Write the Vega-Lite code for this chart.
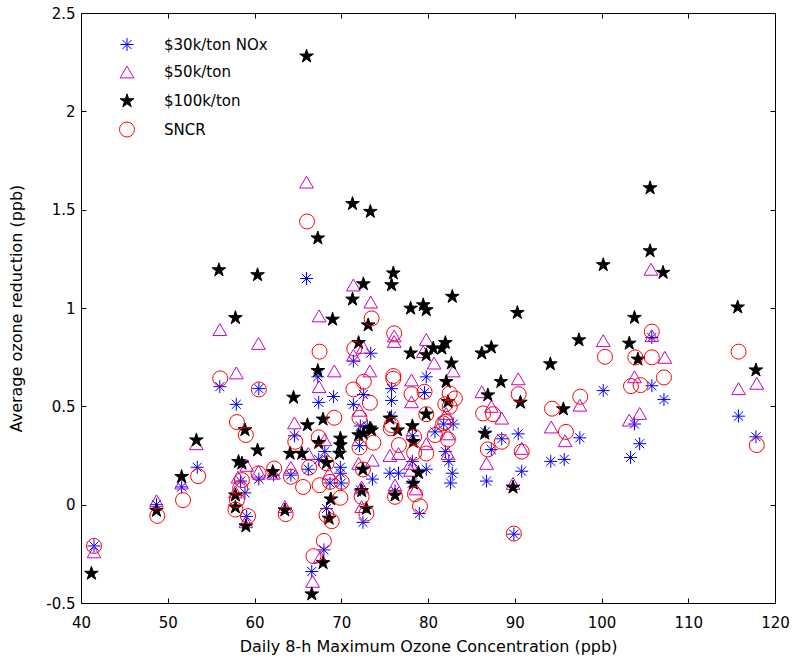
{
"$schema":"https://vega.github.io/schema/vega-lite/v6.json",
"width":694,"height":590,
"autosize":{"type":"none"},
"padding":{"left":81,"top":13,"right":19,"bottom":57},
"background":"white",
"config":{
 "view":{"stroke":"black","strokeWidth":1},
 "axis":{"domain":false,"grid":false,"tickColor":"black","tickSize":-5,"labelColor":"black","labelFont":"DejaVu Sans","labelFontSize":15,"titleFont":"DejaVu Sans","titleFontSize":16,"titleFontWeight":"normal","titleColor":"black","labelFlush":false,"labelOverlap":false}
},
"data":{"values":[
{"s":"$30k/ton NOx","x":41.5,"y":-0.21},{"s":"$30k/ton NOx","x":48.7,"y":0.0},{"s":"$30k/ton NOx","x":51.6,"y":0.09},{"s":"$30k/ton NOx","x":53.4,"y":0.19},{"s":"$30k/ton NOx","x":56.0,"y":0.6},{"s":"$30k/ton NOx","x":57.9,"y":0.51},{"s":"$30k/ton NOx","x":58.4,"y":0.12},{"s":"$30k/ton NOx","x":58.9,"y":0.06},{"s":"$30k/ton NOx","x":59.1,"y":-0.06},{"s":"$30k/ton NOx","x":60.5,"y":0.59},{"s":"$30k/ton NOx","x":60.5,"y":0.13},{"s":"$30k/ton NOx","x":62.2,"y":0.15},{"s":"$30k/ton NOx","x":64.2,"y":0.15},{"s":"$30k/ton NOx","x":64.6,"y":0.35},{"s":"$30k/ton NOx","x":66.0,"y":1.15},{"s":"$30k/ton NOx","x":66.2,"y":0.18},{"s":"$30k/ton NOx","x":67.3,"y":0.65},{"s":"$30k/ton NOx","x":67.4,"y":0.52},{"s":"$30k/ton NOx","x":67.4,"y":0.23},{"s":"$30k/ton NOx","x":68.1,"y":0.27},{"s":"$30k/ton NOx","x":68.7,"y":0.11},{"s":"$30k/ton NOx","x":69.1,"y":0.55},{"s":"$30k/ton NOx","x":69.9,"y":0.19},{"s":"$30k/ton NOx","x":69.9,"y":0.16},{"s":"$30k/ton NOx","x":70.0,"y":0.11},{"s":"$30k/ton NOx","x":71.4,"y":0.73},{"s":"$30k/ton NOx","x":71.4,"y":0.51},{"s":"$30k/ton NOx","x":72.1,"y":0.3},{"s":"$30k/ton NOx","x":72.55,"y":0.56},{"s":"$30k/ton NOx","x":72.2,"y":0.4},{"s":"$30k/ton NOx","x":73.0,"y":0.4},{"s":"$30k/ton NOx","x":73.4,"y":0.77},{"s":"$30k/ton NOx","x":72.2,"y":0.075},{"s":"$30k/ton NOx","x":73.6,"y":0.13},{"s":"$30k/ton NOx","x":72.5,"y":-0.09},{"s":"$30k/ton NOx","x":68.3,"y":-0.02},{"s":"$30k/ton NOx","x":68.0,"y":-0.23},{"s":"$30k/ton NOx","x":66.6,"y":-0.34},{"s":"$30k/ton NOx","x":75.8,"y":0.59},{"s":"$30k/ton NOx","x":75.8,"y":0.53},{"s":"$30k/ton NOx","x":75.8,"y":0.45},{"s":"$30k/ton NOx","x":75.6,"y":0.16},{"s":"$30k/ton NOx","x":76.6,"y":0.16},{"s":"$30k/ton NOx","x":76.2,"y":0.07},{"s":"$30k/ton NOx","x":78.2,"y":0.35},{"s":"$30k/ton NOx","x":78.2,"y":0.22},{"s":"$30k/ton NOx","x":78.2,"y":0.11},{"s":"$30k/ton NOx","x":79.8,"y":0.65},{"s":"$30k/ton NOx","x":79.6,"y":0.57},{"s":"$30k/ton NOx","x":79.8,"y":0.18},{"s":"$30k/ton NOx","x":79.0,"y":-0.045},{"s":"$30k/ton NOx","x":80.8,"y":0.37},{"s":"$30k/ton NOx","x":81.8,"y":0.41},{"s":"$30k/ton NOx","x":82.9,"y":0.41},{"s":"$30k/ton NOx","x":82.0,"y":0.27},{"s":"$30k/ton NOx","x":82.4,"y":0.22},{"s":"$30k/ton NOx","x":82.8,"y":0.16},{"s":"$30k/ton NOx","x":82.6,"y":0.11},{"s":"$30k/ton NOx","x":86.6,"y":0.37},{"s":"$30k/ton NOx","x":87.3,"y":0.28},{"s":"$30k/ton NOx","x":86.75,"y":0.12},{"s":"$30k/ton NOx","x":88.5,"y":0.335},{"s":"$30k/ton NOx","x":90.4,"y":0.36},{"s":"$30k/ton NOx","x":90.8,"y":0.17},{"s":"$30k/ton NOx","x":89.9,"y":-0.15},{"s":"$30k/ton NOx","x":94.15,"y":0.22},{"s":"$30k/ton NOx","x":95.7,"y":0.23},{"s":"$30k/ton NOx","x":97.5,"y":0.34},{"s":"$30k/ton NOx","x":100.2,"y":0.58},{"s":"$30k/ton NOx","x":103.8,"y":0.41},{"s":"$30k/ton NOx","x":104.4,"y":0.31},{"s":"$30k/ton NOx","x":103.35,"y":0.24},{"s":"$30k/ton NOx","x":105.8,"y":0.605},{"s":"$30k/ton NOx","x":105.8,"y":0.85},{"s":"$30k/ton NOx","x":107.2,"y":0.535},{"s":"$30k/ton NOx","x":115.8,"y":0.45},{"s":"$30k/ton NOx","x":117.8,"y":0.345},
{"s":"$50k/ton","x":41.5,"y":-0.24},{"s":"$50k/ton","x":48.7,"y":0.02},{"s":"$50k/ton","x":51.6,"y":0.11},{"s":"$50k/ton","x":53.3,"y":0.31},{"s":"$50k/ton","x":56.0,"y":0.89},{"s":"$50k/ton","x":57.9,"y":0.67},{"s":"$50k/ton","x":60.46,"y":0.82},{"s":"$50k/ton","x":58.1,"y":0.14},{"s":"$50k/ton","x":59.1,"y":0.2},{"s":"$50k/ton","x":57.8,"y":0.065},{"s":"$50k/ton","x":59.0,"y":-0.087},{"s":"$50k/ton","x":60.46,"y":0.17},{"s":"$50k/ton","x":62.2,"y":0.16},{"s":"$50k/ton","x":63.5,"y":-0.01},{"s":"$50k/ton","x":64.2,"y":0.19},{"s":"$50k/ton","x":64.6,"y":0.416},{"s":"$50k/ton","x":66.0,"y":1.64},{"s":"$50k/ton","x":66.2,"y":0.26},{"s":"$50k/ton","x":67.45,"y":0.96},{"s":"$50k/ton","x":67.45,"y":0.6},{"s":"$50k/ton","x":68.1,"y":0.33},{"s":"$50k/ton","x":68.6,"y":0.16},{"s":"$50k/ton","x":69.2,"y":0.68},{"s":"$50k/ton","x":71.4,"y":1.117},{"s":"$50k/ton","x":73.4,"y":1.03},{"s":"$50k/ton","x":72.55,"y":0.8},{"s":"$50k/ton","x":71.4,"y":0.76},{"s":"$50k/ton","x":73.3,"y":0.68},{"s":"$50k/ton","x":72.1,"y":0.48},{"s":"$50k/ton","x":72.0,"y":0.21},{"s":"$50k/ton","x":73.6,"y":0.226},{"s":"$50k/ton","x":72.35,"y":0.09},{"s":"$50k/ton","x":72.35,"y":-0.01},{"s":"$50k/ton","x":67.6,"y":-0.265},{"s":"$50k/ton","x":66.7,"y":-0.39},{"s":"$50k/ton","x":76.1,"y":0.858},{"s":"$50k/ton","x":76.1,"y":0.83},{"s":"$50k/ton","x":79.8,"y":0.84},{"s":"$50k/ton","x":79.45,"y":0.778},{"s":"$50k/ton","x":80.7,"y":0.72},{"s":"$50k/ton","x":82.9,"y":0.68},{"s":"$50k/ton","x":78.1,"y":0.634},{"s":"$50k/ton","x":78.1,"y":0.523},{"s":"$50k/ton","x":86.2,"y":0.574},{"s":"$50k/ton","x":87.3,"y":0.5},{"s":"$50k/ton","x":88.5,"y":0.44},{"s":"$50k/ton","x":90.4,"y":0.64},{"s":"$50k/ton","x":75.6,"y":0.25},{"s":"$50k/ton","x":76.6,"y":0.26},{"s":"$50k/ton","x":79.8,"y":0.31},{"s":"$50k/ton","x":82.3,"y":0.26},{"s":"$50k/ton","x":82.3,"y":0.36},{"s":"$50k/ton","x":82.1,"y":0.464},{"s":"$50k/ton","x":78.0,"y":0.21},{"s":"$50k/ton","x":78.0,"y":0.175},{"s":"$50k/ton","x":78.6,"y":0.08},{"s":"$50k/ton","x":76.2,"y":0.1},{"s":"$50k/ton","x":86.75,"y":0.21},{"s":"$50k/ton","x":90.8,"y":0.286},{"s":"$50k/ton","x":89.8,"y":0.108},{"s":"$50k/ton","x":94.2,"y":0.395},{"s":"$50k/ton","x":95.8,"y":0.325},{"s":"$50k/ton","x":97.5,"y":0.506},{"s":"$50k/ton","x":100.2,"y":0.834},{"s":"$50k/ton","x":103.2,"y":0.43},{"s":"$50k/ton","x":104.4,"y":0.464},{"s":"$50k/ton","x":103.8,"y":0.65},{"s":"$50k/ton","x":105.7,"y":1.197},{"s":"$50k/ton","x":105.8,"y":0.86},{"s":"$50k/ton","x":107.3,"y":0.749},{"s":"$50k/ton","x":115.8,"y":0.59},{"s":"$50k/ton","x":117.9,"y":0.617},
{"s":"$100k/ton","x":41.2,"y":-0.35},{"s":"$100k/ton","x":48.7,"y":-0.03},{"s":"$100k/ton","x":51.6,"y":0.142},{"s":"$100k/ton","x":53.3,"y":0.328},{"s":"$100k/ton","x":55.9,"y":1.193},{"s":"$100k/ton","x":57.8,"y":0.95},{"s":"$100k/ton","x":58.9,"y":0.38},{"s":"$100k/ton","x":58.16,"y":0.218},{"s":"$100k/ton","x":58.55,"y":0.21},{"s":"$100k/ton","x":57.8,"y":0.048},{"s":"$100k/ton","x":57.8,"y":-0.013},{"s":"$100k/ton","x":59.0,"y":-0.109},{"s":"$100k/ton","x":60.35,"y":1.168},{"s":"$100k/ton","x":60.35,"y":0.277},{"s":"$100k/ton","x":62.1,"y":0.167},{"s":"$100k/ton","x":63.5,"y":-0.028},{"s":"$100k/ton","x":64.1,"y":0.26},{"s":"$100k/ton","x":64.5,"y":0.545},{"s":"$100k/ton","x":65.45,"y":0.26},{"s":"$100k/ton","x":66.0,"y":2.28},{"s":"$100k/ton","x":66.1,"y":0.405},{"s":"$100k/ton","x":67.3,"y":1.355},{"s":"$100k/ton","x":67.3,"y":0.681},{"s":"$100k/ton","x":67.9,"y":0.434},{"s":"$100k/ton","x":67.4,"y":0.315},{"s":"$100k/ton","x":69.0,"y":0.942},{"s":"$100k/ton","x":69.9,"y":0.337},{"s":"$100k/ton","x":69.9,"y":0.303},{"s":"$100k/ton","x":69.8,"y":0.26},{"s":"$100k/ton","x":68.3,"y":0.213},{"s":"$100k/ton","x":68.8,"y":0.028},{"s":"$100k/ton","x":68.6,"y":-0.07},{"s":"$100k/ton","x":67.9,"y":-0.296},{"s":"$100k/ton","x":66.6,"y":-0.455},{"s":"$100k/ton","x":71.3,"y":1.53},{"s":"$100k/ton","x":73.35,"y":1.49},{"s":"$100k/ton","x":72.55,"y":1.122},{"s":"$100k/ton","x":71.3,"y":1.044},{"s":"$100k/ton","x":73.1,"y":0.913},{"s":"$100k/ton","x":72.0,"y":0.823},{"s":"$100k/ton","x":73.3,"y":0.388},{"s":"$100k/ton","x":72.0,"y":0.354},{"s":"$100k/ton","x":72.55,"y":0.362},{"s":"$100k/ton","x":73.5,"y":0.379},{"s":"$100k/ton","x":72.5,"y":0.179},{"s":"$100k/ton","x":72.35,"y":0.07},{"s":"$100k/ton","x":72.9,"y":-0.02},{"s":"$100k/ton","x":75.8,"y":1.117},{"s":"$100k/ton","x":76.0,"y":1.177},{"s":"$100k/ton","x":78.0,"y":0.998},{"s":"$100k/ton","x":79.45,"y":1.015},{"s":"$100k/ton","x":79.8,"y":0.99},{"s":"$100k/ton","x":82.8,"y":1.058},{"s":"$100k/ton","x":82.0,"y":0.823},{"s":"$100k/ton","x":80.6,"y":0.795},{"s":"$100k/ton","x":81.6,"y":0.795},{"s":"$100k/ton","x":78.0,"y":0.77},{"s":"$100k/ton","x":79.8,"y":0.761},{"s":"$100k/ton","x":82.7,"y":0.719},{"s":"$100k/ton","x":82.1,"y":0.625},{"s":"$100k/ton","x":82.3,"y":0.523},{"s":"$100k/ton","x":79.8,"y":0.46},{"s":"$100k/ton","x":75.6,"y":0.439},{"s":"$100k/ton","x":78.2,"y":0.4},{"s":"$100k/ton","x":76.5,"y":0.379},{"s":"$100k/ton","x":78.3,"y":0.32},{"s":"$100k/ton","x":78.9,"y":0.162},{"s":"$100k/ton","x":78.3,"y":0.108},{"s":"$100k/ton","x":76.2,"y":0.048},{"s":"$100k/ton","x":86.2,"y":0.77},{"s":"$100k/ton","x":87.3,"y":0.8},{"s":"$100k/ton","x":86.9,"y":0.557},{"s":"$100k/ton","x":86.55,"y":0.362},{"s":"$100k/ton","x":88.4,"y":0.625},{"s":"$100k/ton","x":90.3,"y":0.976},{"s":"$100k/ton","x":90.65,"y":0.52},{"s":"$100k/ton","x":89.8,"y":0.088},{"s":"$100k/ton","x":94.1,"y":0.715},{"s":"$100k/ton","x":95.6,"y":0.486},{"s":"$100k/ton","x":97.4,"y":0.837},{"s":"$100k/ton","x":100.2,"y":1.219},{"s":"$100k/ton","x":103.8,"y":0.951},{"s":"$100k/ton","x":103.2,"y":0.82},{"s":"$100k/ton","x":104.2,"y":0.739},{"s":"$100k/ton","x":105.6,"y":1.61},{"s":"$100k/ton","x":105.6,"y":1.29},{"s":"$100k/ton","x":107.1,"y":1.18},{"s":"$100k/ton","x":115.7,"y":1.004},{"s":"$100k/ton","x":117.8,"y":0.684},
{"s":"SNCR","x":41.5,"y":-0.21},{"s":"SNCR","x":48.8,"y":-0.057},{"s":"SNCR","x":51.76,"y":0.023},{"s":"SNCR","x":53.5,"y":0.145},{"s":"SNCR","x":56.05,"y":0.642},{"s":"SNCR","x":57.97,"y":0.42},{"s":"SNCR","x":59.0,"y":0.354},{"s":"SNCR","x":60.5,"y":0.586},{"s":"SNCR","x":60.46,"y":0.159},{"s":"SNCR","x":58.55,"y":0.125},{"s":"SNCR","x":58.35,"y":0.084},{"s":"SNCR","x":57.97,"y":0.023},{"s":"SNCR","x":57.8,"y":-0.025},{"s":"SNCR","x":59.25,"y":-0.058},{"s":"SNCR","x":62.27,"y":0.184},{"s":"SNCR","x":63.6,"y":-0.048},{"s":"SNCR","x":64.2,"y":0.142},{"s":"SNCR","x":64.7,"y":0.32},{"s":"SNCR","x":65.6,"y":0.09},{"s":"SNCR","x":66.06,"y":1.44},{"s":"SNCR","x":66.3,"y":0.189},{"s":"SNCR","x":67.5,"y":0.778},{"s":"SNCR","x":67.4,"y":0.342},{"s":"SNCR","x":67.5,"y":0.099},{"s":"SNCR","x":68.3,"y":-0.053},{"s":"SNCR","x":68.9,"y":-0.084},{"s":"SNCR","x":68.0,"y":-0.184},{"s":"SNCR","x":66.8,"y":-0.262},{"s":"SNCR","x":68.7,"y":0.116},{"s":"SNCR","x":69.2,"y":0.442},{"s":"SNCR","x":69.9,"y":0.035},{"s":"SNCR","x":70.05,"y":0.116},{"s":"SNCR","x":71.5,"y":0.793},{"s":"SNCR","x":73.5,"y":0.947},{"s":"SNCR","x":72.6,"y":0.625},{"s":"SNCR","x":71.4,"y":0.586},{"s":"SNCR","x":73.3,"y":0.518},{"s":"SNCR","x":72.1,"y":0.442},{"s":"SNCR","x":72.1,"y":0.291},{"s":"SNCR","x":73.7,"y":0.315},{"s":"SNCR","x":72.5,"y":0.179},{"s":"SNCR","x":72.35,"y":0.04},{"s":"SNCR","x":72.9,"y":-0.045},{"s":"SNCR","x":68.3,"y":0.21},{"s":"SNCR","x":76.1,"y":0.871},{"s":"SNCR","x":76.0,"y":0.654},{"s":"SNCR","x":76.0,"y":0.64},{"s":"SNCR","x":78.1,"y":0.562},{"s":"SNCR","x":79.6,"y":0.574},{"s":"SNCR","x":82.5,"y":0.566},{"s":"SNCR","x":83.1,"y":0.54},{"s":"SNCR","x":82.0,"y":0.511},{"s":"SNCR","x":82.5,"y":0.498},{"s":"SNCR","x":82.0,"y":0.421},{"s":"SNCR","x":79.8,"y":0.46},{"s":"SNCR","x":75.8,"y":0.405},{"s":"SNCR","x":75.7,"y":0.388},{"s":"SNCR","x":78.4,"y":0.345},{"s":"SNCR","x":78.4,"y":0.264},{"s":"SNCR","x":76.65,"y":0.303},{"s":"SNCR","x":79.8,"y":0.26},{"s":"SNCR","x":80.8,"y":0.354},{"s":"SNCR","x":81.75,"y":0.413},{"s":"SNCR","x":82.3,"y":0.332},{"s":"SNCR","x":78.5,"y":0.053},{"s":"SNCR","x":76.2,"y":0.04},{"s":"SNCR","x":79.07,"y":-0.008},{"s":"SNCR","x":86.35,"y":0.464},{"s":"SNCR","x":87.5,"y":0.46},{"s":"SNCR","x":86.9,"y":0.281},{"s":"SNCR","x":88.5,"y":0.32},{"s":"SNCR","x":90.45,"y":0.562},{"s":"SNCR","x":90.8,"y":0.27},{"s":"SNCR","x":89.9,"y":-0.147},{"s":"SNCR","x":94.3,"y":0.488},{"s":"SNCR","x":95.9,"y":0.37},{"s":"SNCR","x":97.55,"y":0.549},{"s":"SNCR","x":100.4,"y":0.752},{"s":"SNCR","x":103.9,"y":0.749},{"s":"SNCR","x":105.8,"y":0.749},{"s":"SNCR","x":103.4,"y":0.603},{"s":"SNCR","x":104.5,"y":0.608},{"s":"SNCR","x":105.8,"y":0.88},{"s":"SNCR","x":107.2,"y":0.647},{"s":"SNCR","x":115.8,"y":0.778},{"s":"SNCR","x":117.9,"y":0.303}
]},
"layer":[
 {"mark":{"type":"point","filled":true,"strokeWidth":1,"opacity":1},
  "encoding":{
   "x":{"field":"x","type":"quantitative","scale":{"domain":[40,120],"nice":false,"zero":false},"axis":{"orient":"bottom","values":[40,50,60,70,80,90,100,110,120],"labelPadding":17,"title":"Daily 8-h Maximum Ozone Concentration (ppb)","titlePadding":8}},
   "y":{"field":"y","type":"quantitative","scale":{"domain":[-0.5,2.5],"nice":false,"zero":false},"axis":{"orient":"left","values":[-0.5,0,0.5,1,1.5,2,2.5],"labelExpr":"'' + datum.value","labelPadding":11,"title":"Average ozone reduction (ppb)","titlePadding":21}},
   "shape":{"field":"s","type":"nominal","scale":{"domain":["$30k/ton NOx","$50k/ton","$100k/ton","SNCR"],"range":["M-1,0L1,0M0,-1L0,1M-0.7,-0.7L0.7,0.7M-0.7,0.7L0.7,-0.7","triangle-up","M0,-1L0.2245,-0.309L0.9511,-0.309L0.3633,0.118L0.5878,0.809L0,0.382L-0.5878,0.809L-0.3633,0.118L-0.9511,-0.309L-0.2245,-0.309Z","circle"]},"legend":{"orient":"none","legendX":38,"legendY":24,"title":null,"labelFont":"DejaVu Sans","labelFontSize":15,"labelColor":"black","rowPadding":10.5,"labelOffset":29,"symbolStrokeWidth":1,"padding":0}},
   "stroke":{"field":"s","type":"nominal","scale":{"domain":["$30k/ton NOx","$50k/ton","$100k/ton","SNCR"],"range":["#0000ff","#c800c8","#000000","#ff0000"]}},
   "fill":{"field":"s","type":"nominal","scale":{"domain":["$30k/ton NOx","$50k/ton","$100k/ton","SNCR"],"range":["transparent","transparent","#000000","transparent"]}},
   "size":{"field":"s","type":"nominal","scale":{"domain":["$30k/ton NOx","$50k/ton","$100k/ton","SNCR"],"range":[169,225,160,169]}}
  }},
 {"mark":{"type":"point","opacity":0},
  "encoding":{
   "x":{"field":"x","type":"quantitative","axis":{"orient":"top","values":[40,50,60,70,80,90,100,110,120],"labels":false,"title":null}},
   "y":{"field":"y","type":"quantitative","axis":{"orient":"right","values":[-0.5,0,0.5,1,1.5,2,2.5],"labels":false,"title":null}}
  }}
],
"resolve":{"axis":{"x":"independent","y":"independent"}}
}
